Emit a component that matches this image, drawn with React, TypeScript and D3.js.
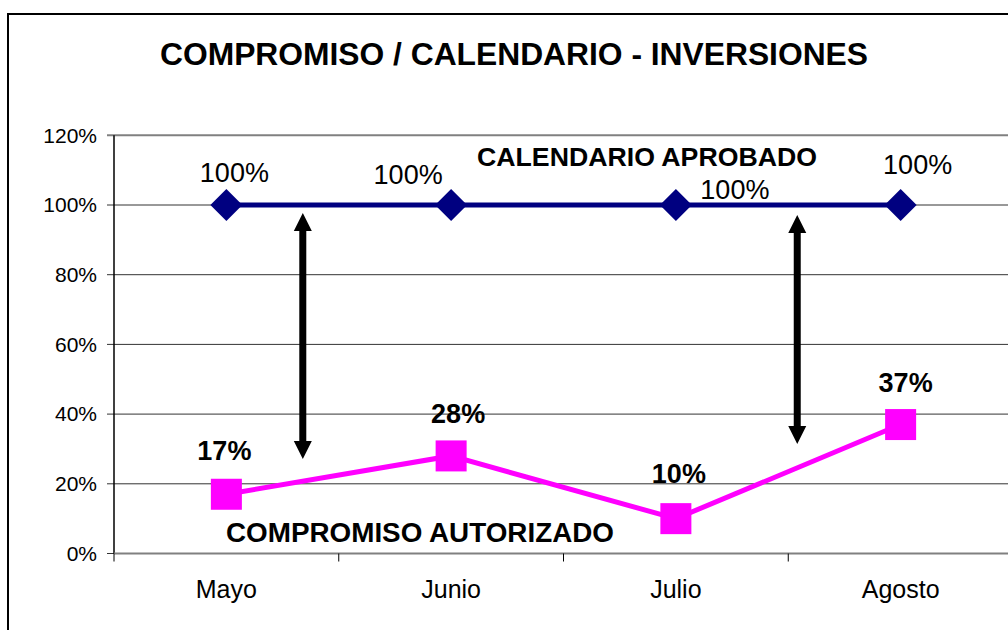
import React from "react";
import * as d3 from "d3";

const categories = ["Mayo", "Junio", "Julio", "Agosto"];
const calendarioAprobado = [1.0, 1.0, 1.0, 1.0];
const compromisoAutorizado = [0.17, 0.28, 0.1, 0.37];
const yTicks = [0, 0.2, 0.4, 0.6, 0.8, 1.0, 1.2];
const title = "COMPROMISO / CALENDARIO - INVERSIONES";
const seriesNames = ["CALENDARIO APROBADO", "COMPROMISO AUTORIZADO"];
// arrows: [category position (index), value from, value to]
const arrows: [number, number, number][] = [
  [0.34, 0.977, 0.271],
  [2.54, 0.971, 0.314],
];

// label offsets (layout)
const blueLabelOffsets: [number, number][] = [[8, -23], [-43, -21], [59, -6], [17, -31]];
const pinkLabelOffsets: [number, number][] = [[-2, -34], [7, -33], [3, -36], [5, -33]];

const W = 1008, H = 630;
const plot = { left: 114, right: 1013, top: 135.3, bottom: 553.5 };
const FONT = "'Liberation Sans', Arial, sans-serif";

export default function App() {
  const x = d3.scaleBand<string>().domain(categories).range([plot.left, plot.right]);
  const y = d3.scaleLinear().domain([0, 1.2]).range([plot.bottom, plot.top]);
  const cx = (i: number) => (x(categories[0]) as number) + x.bandwidth() * (i + 0.5);
  const fmt = d3.format(".0%");

  const line = d3.line<number>().x((_, i) => cx(i)).y((d) => y(d));
  const boundaries = d3.range(categories.length + 1).map((i) => plot.left + i * x.bandwidth());

  const arrowHead = (ax: number, ay: number, dir: number) => {
    const hw = 9, hh = 18;
    return `M${ax},${ay} L${ax - hw},${ay + dir * hh} L${ax + hw},${ay + dir * hh} Z`;
  };

  return (
    <svg width={W} height={H} style={{ position: "absolute", left: 0, top: 0, background: "#fff" }} fontFamily={FONT}>
      <rect x={0} y={0} width={W} height={H} fill="#fff" />
      {/* chart border */}
      <rect x={8} y={14} width={W + 20} height={H + 20} fill="none" stroke="#000" strokeWidth={2} />
      {/* title */}
      <text x={514} y={65} textAnchor="middle" fontSize={31} fontWeight="bold" fill="#000" textLength={708} lengthAdjust="spacingAndGlyphs">
        {title}
      </text>
      {/* gridlines */}
      {yTicks.map((t) => (
        <line key={t} x1={plot.left - 7} x2={plot.right} y1={y(t)} y2={y(t)} stroke={t === 1.2 ? "#808080" : "#333"} strokeWidth={t === 1.2 ? 2 : 1} />
      ))}
      {/* y axis */}
      <line x1={plot.left} x2={plot.left} y1={plot.top} y2={plot.bottom} stroke="#000" strokeWidth={1.5} />
      {yTicks.map((t) => (
        <text key={"l" + t} x={97} y={y(t)} dy="0.35em" textAnchor="end" fontSize={21} fill="#000">
          {fmt(t)}
        </text>
      ))}
      {/* x axis */}
      <line x1={plot.left} x2={plot.right} y1={plot.bottom} y2={plot.bottom} stroke="#808080" strokeWidth={2} />
      {boundaries.map((b, i) => (
        <line key={"b" + i} x1={b} x2={b} y1={plot.bottom} y2={plot.bottom + 8} stroke="#000" strokeWidth={1} />
      ))}
      {categories.map((c, i) => (
        <text key={c} x={cx(i)} y={598} textAnchor="middle" fontSize={25} fill="#000">
          {c}
        </text>
      ))}
      {/* blue series */}
      <path d={line(calendarioAprobado) || ""} fill="none" stroke="#000080" strokeWidth={5} />
      {calendarioAprobado.map((v, i) => (
        <path key={"d" + i} d={`M${cx(i)},${y(v) - 16} L${cx(i) + 16},${y(v)} L${cx(i)},${y(v) + 16} L${cx(i) - 16},${y(v)} Z`} fill="#000080" />
      ))}
      {calendarioAprobado.map((v, i) => (
        <text key={"bl" + i} x={cx(i) + blueLabelOffsets[i][0]} y={y(v) + blueLabelOffsets[i][1]} textAnchor="middle" fontSize={27} fill="#000">
          {fmt(v)}
        </text>
      ))}
      {/* pink series */}
      <path d={line(compromisoAutorizado) || ""} fill="none" stroke="#FF00FF" strokeWidth={5} />
      {compromisoAutorizado.map((v, i) => (
        <rect key={"s" + i} x={cx(i) - 15.5} y={y(v) - 15.5} width={31} height={31} fill="#FF00FF" />
      ))}
      {compromisoAutorizado.map((v, i) => (
        <text key={"pl" + i} x={cx(i) + pinkLabelOffsets[i][0]} y={y(v) + pinkLabelOffsets[i][1]} textAnchor="middle" fontSize={27} fontWeight="bold" fill="#000">
          {fmt(v)}
        </text>
      ))}
      {/* series labels */}
      <text x={477} y={166} fontSize={26} fontWeight="bold" fill="#000" textLength={340} lengthAdjust="spacingAndGlyphs">
        {seriesNames[0]}
      </text>
      <text x={226} y={542} fontSize={27} fontWeight="bold" fill="#000" textLength={388} lengthAdjust="spacingAndGlyphs">
        {seriesNames[1]}
      </text>
      {/* arrows */}
      {arrows.map(([p, v0, v1], k) => {
        const ax = plot.left + x.bandwidth() * (p + 0.5);
        const y0 = y(v0), y1 = y(v1);
        return (
          <g key={"a" + k}>
            <line x1={ax} x2={ax} y1={y0 + 16} y2={y1 - 16} stroke="#000" strokeWidth={7} />
            <path d={arrowHead(ax, y0, 1)} fill="#000" />
            <path d={arrowHead(ax, y1, -1)} fill="#000" />
          </g>
        );
      })}
    </svg>
  );
}
